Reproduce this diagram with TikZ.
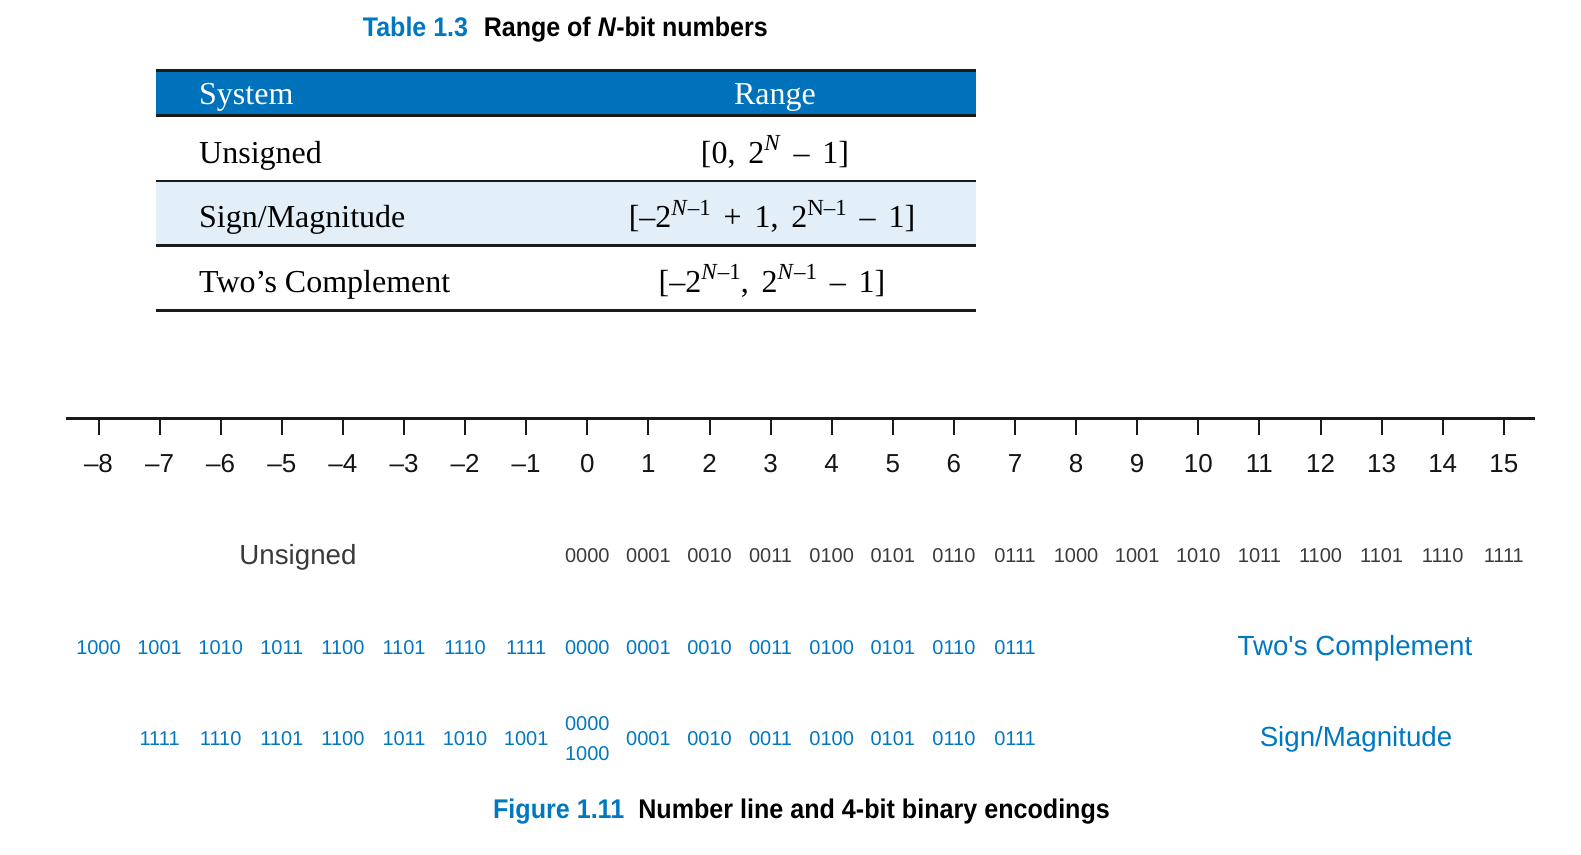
\documentclass[tikz,border=0pt]{standalone}
\usepackage{fontspec}
\setmainfont{Liberation Serif}
\newfontfamily\sansf{Liberation Sans}
\newfontfamily\capf[FakeStretch=0.93]{Liberation Sans}
\definecolor{hdrblue}{RGB}{0,114,188}
\definecolor{tblue}{RGB}{0,119,193}
\definecolor{rowblue}{RGB}{226,239,248}
\definecolor{ugray}{RGB}{58,58,58}
\definecolor{numblack}{RGB}{20,20,20}
\definecolor{rulec}{RGB}{26,26,26}
\newcommand\myexp[1]{\raisebox{0.38em}{\fontsize{23}{23}\selectfont #1}}
\newcommand\gap{\hspace{0.4em}}
\begin{document}
\begin{tikzpicture}[x=1pt,y=-1pt,
  capt/.style={inner sep=0, anchor=base west, text=black},
  cell/.style={inner sep=0, anchor=base west, font=\fontsize{32}{36}\selectfont},
  rng/.style={inner sep=0, anchor=base, font=\fontsize{32}{36}\selectfont},
  numlab/.style={inner sep=0, anchor=base, font=\sansf\fontsize{26}{28}\selectfont, text=numblack},
  ubin/.style={inner sep=0, anchor=base, font=\sansf\fontsize{20}{22}\selectfont, text=ugray},
  bbin/.style={inner sep=0, anchor=base, font=\sansf\fontsize{20}{22}\selectfont, text=tblue},
  rowlabel/.style={inner sep=0, anchor=base, font=\sansf\fontsize{27.7}{30}\selectfont},
  axis/.style={line width=2.5pt, draw=rulec},
  tickline/.style={line width=2pt, draw=rulec},
  rule/.style={draw=rulec}]
\useasboundingbox (0,0) rectangle (1581,854);

% ---- Table title
\node[capt, font=\capf\bfseries\fontsize{26.9}{30}\selectfont] (ttitle) at (362.7,36.7)
  {{\color{tblue}Table 1.3}\hspace{15.7pt}Range of \textit{N}-bit numbers};

% ---- Table body
\fill[hdrblue] (156,72) rectangle (976,114.5);
\fill[rowblue] (156,182) rectangle (976,244.5);
\draw[rule, line width=3.5pt] (156,70.7) -- (976,70.7);
\draw[rule, line width=3pt] (156,115.8) -- (976,115.8);
\draw[rule, line width=2pt] (156,181) -- (976,181);
\draw[rule, line width=2.5pt] (156,245.5) -- (976,245.5);
\draw[rule, line width=3pt] (156,310) -- (976,310);

\node[cell, text=white] (hsys) at (199,104) {System};
\node[rng, text=white] (hrng) at (775,104) {Range};
\node[cell] (c1) at (199,163) {Unsigned};
\node[rng] (r1) at (775,163) {[0,\gap2\myexp{\textit{N}}\gap–\gap1]};
\node[cell] (c2) at (199,227.5) {Sign/Magnitude};
\node[rng] (r2) at (772,227.5) {[–2\myexp{\textit{N}–1}\gap+\gap1,\gap2\myexp{N–1}\gap–\gap1]};
\node[cell] (c3) at (199,292) {Two’s Complement};
\node[rng] (r3) at (772,292) {[–2\myexp{\textit{N}–1},\gap2\myexp{\textit{N}–1}\gap–\gap1]};

% ---- Number line
\coordinate (L) at (66,418.7);
\coordinate (R) at (1535,418.7);
\draw[axis] (L) -- (R);
\foreach \n in {-8,...,15} {
  \pgfmathtruncatemacro\idx{\n+8}
  \coordinate (k\idx) at ({587.3+61.1*\n},418.7);
  \coordinate (kb\idx) at ({587.3+61.1*\n},434.5);
  \draw[tickline] (k\idx) -- (kb\idx);
  \node[numlab] (n\idx) at ({587.3+61.1*\n},472) {\ifnum\n<0 –\the\numexpr-\n\relax\else\n\fi};
}

% ---- Unsigned row
\node[rowlabel, text=ugray] (ulab) at (298,564) {Unsigned};
\foreach \b [count=\i from 0] in {0000,0001,0010,0011,0100,0101,0110,0111,1000,1001,1010,1011,1100,1101,1110,1111} {
  \node[ubin] (u\i) at ({587.3+61.1*\i},562.3) {\b};
}

% ---- Two's complement row
\foreach \b [count=\i from 0] in {1000,1001,1010,1011,1100,1101,1110,1111,0000,0001,0010,0011,0100,0101,0110,0111} {
  \node[bbin] (t\i) at ({98.5+61.1*\i},654) {\b};
}
\node[rowlabel, text=tblue] (tlab) at (1355,655.5) {Two\textquotesingle s Complement};

% ---- Sign/magnitude row
\foreach \b [count=\i from 1] in {1111,1110,1101,1100,1011,1010,1001} {
  \node[bbin] (s\i) at ({98.5+61.1*\i},745.5) {\b};
}
\node[bbin] (s8a) at (587.3,730.5) {0000};
\node[bbin] (s8b) at (587.3,760.5) {1000};
\foreach \b [count=\i from 9] in {0001,0010,0011,0100,0101,0110,0111} {
  \node[bbin] (s\i) at ({98.5+61.1*\i},745.5) {\b};
}
\node[rowlabel, text=tblue] (slab) at (1356,746.5) {Sign/Magnitude};

% ---- Figure caption
\node[capt, font=\capf\bfseries\fontsize{27}{30}\selectfont] (fcap) at (492.9,818.3)
  {{\color{tblue}Figure 1.11}\hspace{14pt}Number line and 4-bit binary encodings};
\end{tikzpicture}
\end{document}
